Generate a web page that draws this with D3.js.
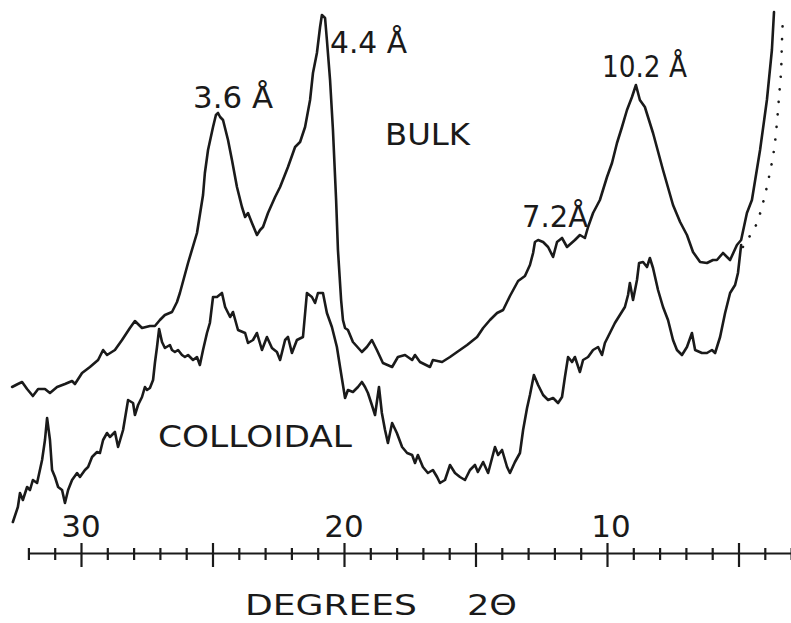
<!DOCTYPE html>
<html>
<head>
<meta charset="utf-8">
<script src="https://cdn.jsdelivr.net/npm/d3@7/dist/d3.min.js"></script>
<style>
  html, body { margin: 0; padding: 0; background: #ffffff; }
  svg { display: block; }
</style>
</head>
<body>
<svg id="chart" width="791" height="623"></svg>
<script>
// ---------------- DATA (2θ in degrees, relative intensity in arbitrary units) ----------------
const bulkDeg = [32.62,32.40,32.24,32.05,31.83,31.63,31.37,31.18,30.91,30.61,30.34,30.23,29.96,29.66,29.35,29.16,29.01,28.71,28.44,28.14,27.95,27.68,27.38,27.19,27.00,26.81,26.54,26.35,26.24,25.93,25.59,25.36,25.29,25.17,24.98,24.87,24.79,24.71,24.60,24.41,24.26,24.07,23.88,23.76,23.65,23.50,23.31,23.19,23.08,22.89,22.62,22.43,22.13,21.86,21.67,21.48,21.29,21.18,21.03,20.91,20.84,20.72,20.65,20.53,20.42,20.30,20.23,20.11,20.04,19.96,19.85,19.66,19.32,19.13,18.94,18.75,18.52,18.17,17.95,17.68,17.41,17.30,17.11,16.73,16.62,16.27,15.97,15.70,15.32,14.94,14.71,14.45,14.18,13.95,13.69,13.38,13.12,12.93,12.81,12.74,12.62,12.43,12.24,12.05,11.90,11.71,11.52,11.22,11.03,10.84,10.72,10.53,10.27,10.00,9.81,9.62,9.43,9.24,9.05,8.90,8.75,8.56,8.25,7.87,7.49,7.22,6.96,6.73,6.46,6.20,5.97,5.82,5.59,5.32,5.06,4.90,4.68,4.49,4.18,3.92,3.73,3.65];
const bulkInt = [173,176,178,171,164,171,171,167,173,176,179,176,187,193,200,210,205,210,220,232,239,232,234,234,240,245,248,258,267,297,327,365,387,410,433,445,447,443,440,420,400,373,353,343,347,337,325,330,333,347,363,373,393,413,418,433,460,487,507,533,545,542,520,480,430,360,310,260,240,232,230,218,208,213,220,210,197,193,203,205,200,205,198,193,200,198,203,208,215,223,232,240,247,250,264,279,284,295,307,318,320,318,313,303,318,322,313,320,325,322,333,347,360,383,397,417,433,450,463,475,460,453,427,390,355,338,325,308,298,297,300,300,307,300,315,320,347,360,410,460,510,548];

const colDeg = [32.59,32.40,32.32,32.21,32.05,31.94,31.83,31.67,31.48,31.37,31.29,31.18,31.10,30.99,30.87,30.72,30.61,30.49,30.34,30.15,30.04,29.85,29.73,29.58,29.39,29.28,29.16,29.01,28.90,28.71,28.59,28.40,28.21,28.02,27.95,27.83,27.68,27.57,27.49,27.38,27.26,27.19,27.11,27.03,26.92,26.81,26.62,26.54,26.43,26.31,26.16,26.05,25.93,25.74,25.59,25.48,25.36,25.21,25.10,24.98,24.83,24.64,24.52,24.33,24.22,24.03,23.76,23.65,23.46,23.31,23.12,22.93,22.74,22.55,22.43,22.24,22.13,21.98,21.79,21.56,21.41,21.22,21.10,20.99,20.80,20.65,20.46,20.27,20.15,20.04,19.96,19.85,19.66,19.47,19.32,19.20,19.09,18.94,18.82,18.67,18.56,18.44,18.33,18.17,17.99,17.79,17.60,17.41,17.30,17.19,17.00,16.81,16.62,16.46,16.35,16.16,15.97,15.78,15.59,15.40,15.21,15.02,14.91,14.71,14.52,14.26,14.14,13.99,13.80,13.69,13.50,13.31,13.19,13.04,12.93,12.78,12.62,12.43,12.24,12.05,11.86,11.71,11.60,11.48,11.33,11.22,11.03,10.91,10.72,10.53,10.34,10.19,10.08,9.89,9.70,9.51,9.32,9.20,9.13,9.01,8.86,8.78,8.63,8.48,8.37,8.25,8.06,7.87,7.68,7.49,7.34,7.15,6.96,6.77,6.65,6.39,6.20,6.01,5.89,5.70,5.51,5.32,5.13,5.02,4.90];
const colInt = [38,53,67,60,73,70,80,77,100,120,142,120,90,83,73,70,57,70,80,87,83,90,93,103,108,107,120,127,123,128,113,130,160,157,145,155,163,173,170,172,180,197,213,231,218,212,215,210,208,210,205,203,205,200,203,195,210,227,237,263,263,267,253,243,248,230,227,217,220,227,210,223,212,208,200,220,223,207,220,223,267,263,257,267,267,247,233,213,193,175,162,170,168,173,178,173,167,155,145,173,147,130,117,137,127,113,107,105,97,105,93,87,90,83,77,80,95,87,83,80,90,95,88,98,87,113,105,110,93,87,98,107,130,152,165,185,175,165,160,162,157,163,183,203,198,203,188,200,203,210,213,205,217,227,237,245,253,265,277,260,280,297,298,293,302,292,270,253,240,220,210,205,213,227,210,207,207,210,207,223,247,267,275,287,315];

// dotted extrapolated background at low angle
const bgDeg = [4.83,4.68,4.49,4.30,4.07,3.84,3.65,3.54,3.46,3.38,3.35,3.31];
const bgInt = [313,320,327,337,357,383,410,437,463,490,517,543];

const majorTicks = [30, 25, 20, 15, 10, 5];
const minorTicks = [32,31,29,28,27,26,24,23,22,21,19,18,17,16,14,13,12,11,9,8,7,6,4,3];
const tickLabelValues = [30, 20, 10];
const tickLabels = ["30", "20", "10"];

const peakLabels = ["3.6 Å", "4.4 Å", "10.2 Å", "7.2Å"];
const seriesLabels = ["BULK", "COLLOIDAL"];
const axisTitle = ["DEGREES", "2Θ"];

// ---------------- CHART ----------------
const svg = d3.select("#chart");
const W = 791, H = 623;
svg.append("rect").attr("width", W).attr("height", H).attr("fill", "#ffffff");

const x = d3.scaleLinear().domain([30, 10]).range([81, 607]);
const y = d3.scaleLinear().domain([0, 560]).range([560, 0]);

const ink = "#1a1a1a";
const font = "'DejaVu Sans', 'Liberation Sans', sans-serif";

const line = d3.line().x(d => x(d[0])).y(d => y(d[1])).curve(d3.curveLinear);

const bulk = bulkDeg.map((d, i) => [d, bulkInt[i]]);
const col = colDeg.map((d, i) => [d, colInt[i]]);
const bg = bgDeg.map((d, i) => [d, bgInt[i]]);

svg.append("path").datum(bulk).attr("d", line)
  .attr("fill", "none").attr("stroke", ink).attr("stroke-width", 2.6)
  .attr("stroke-linejoin", "round").attr("stroke-linecap", "round");
svg.append("path").datum(col).attr("d", line)
  .attr("fill", "none").attr("stroke", ink).attr("stroke-width", 2.6)
  .attr("stroke-linejoin", "round").attr("stroke-linecap", "round");
svg.append("path").datum(bg)
  .attr("d", d3.line().x(d => x(d[0])).y(d => y(d[1])).curve(d3.curveCatmullRom))
  .attr("fill", "none").attr("stroke", ink).attr("stroke-width", 2.6)
  .attr("stroke-linecap", "round").attr("stroke-dasharray", "0.1 12.5");

// ---------------- AXIS ----------------
const axisY = 553;
const xa = x.copy().domain([32, 3]).range([x(32), x(3)]);
const gAxis = svg.append("g").attr("transform", `translate(0,${axisY})`);

function styleAxis(g) {
  g.selectAll("path, line").attr("stroke", ink).attr("stroke-width", 2.2);
  g.selectAll("text").remove();
}
gAxis.append("g").call(d3.axisBottom(xa).tickValues(majorTicks).tickSize(14).tickSizeOuter(0).tickFormat(""))
  .call(styleAxis);
gAxis.append("g").call(d3.axisTop(xa).tickValues(majorTicks).tickSize(10).tickSizeOuter(0).tickFormat(""))
  .call(styleAxis).select(".domain").remove();
gAxis.append("g").call(d3.axisBottom(xa).tickValues(minorTicks).tickSize(7).tickSizeOuter(0).tickFormat(""))
  .call(styleAxis).select(".domain").remove();
gAxis.append("g").call(d3.axisTop(xa).tickValues(minorTicks).tickSize(5).tickSizeOuter(0).tickFormat(""))
  .call(styleAxis).select(".domain").remove();

svg.selectAll("text.tick-label").data(tickLabelValues).enter().append("text")
  .attr("class", "tick-label")
  .attr("x", d => x(d) + (d === 10 ? 4 : 0)).attr("y", 537)
  .attr("text-anchor", "middle")
  .attr("font-family", font).attr("font-size", 31).attr("fill", ink)
  .text((d, i) => tickLabels[i]);

// ---------------- TEXT ----------------
function label(txt, x0, base, len, size) {
  svg.append("text").attr("x", x0).attr("y", base)
    .attr("font-family", font).attr("font-size", size).attr("fill", ink)
    .attr("textLength", len).attr("lengthAdjust", "spacingAndGlyphs")
    .text(txt);
}
label(peakLabels[0], 193, 108, 80, 30);
label(peakLabels[1], 330, 53, 77, 30);
label(peakLabels[2], 602, 77, 85, 30);
label(peakLabels[3], 522, 227, 66, 30);
label(seriesLabels[0], 385, 145, 85, 31);
label(seriesLabels[1], 158, 447, 194, 31);
label(axisTitle[0], 245, 615, 172, 28);
label(axisTitle[1], 467, 615, 50, 28);
</script>
</body>
</html>
